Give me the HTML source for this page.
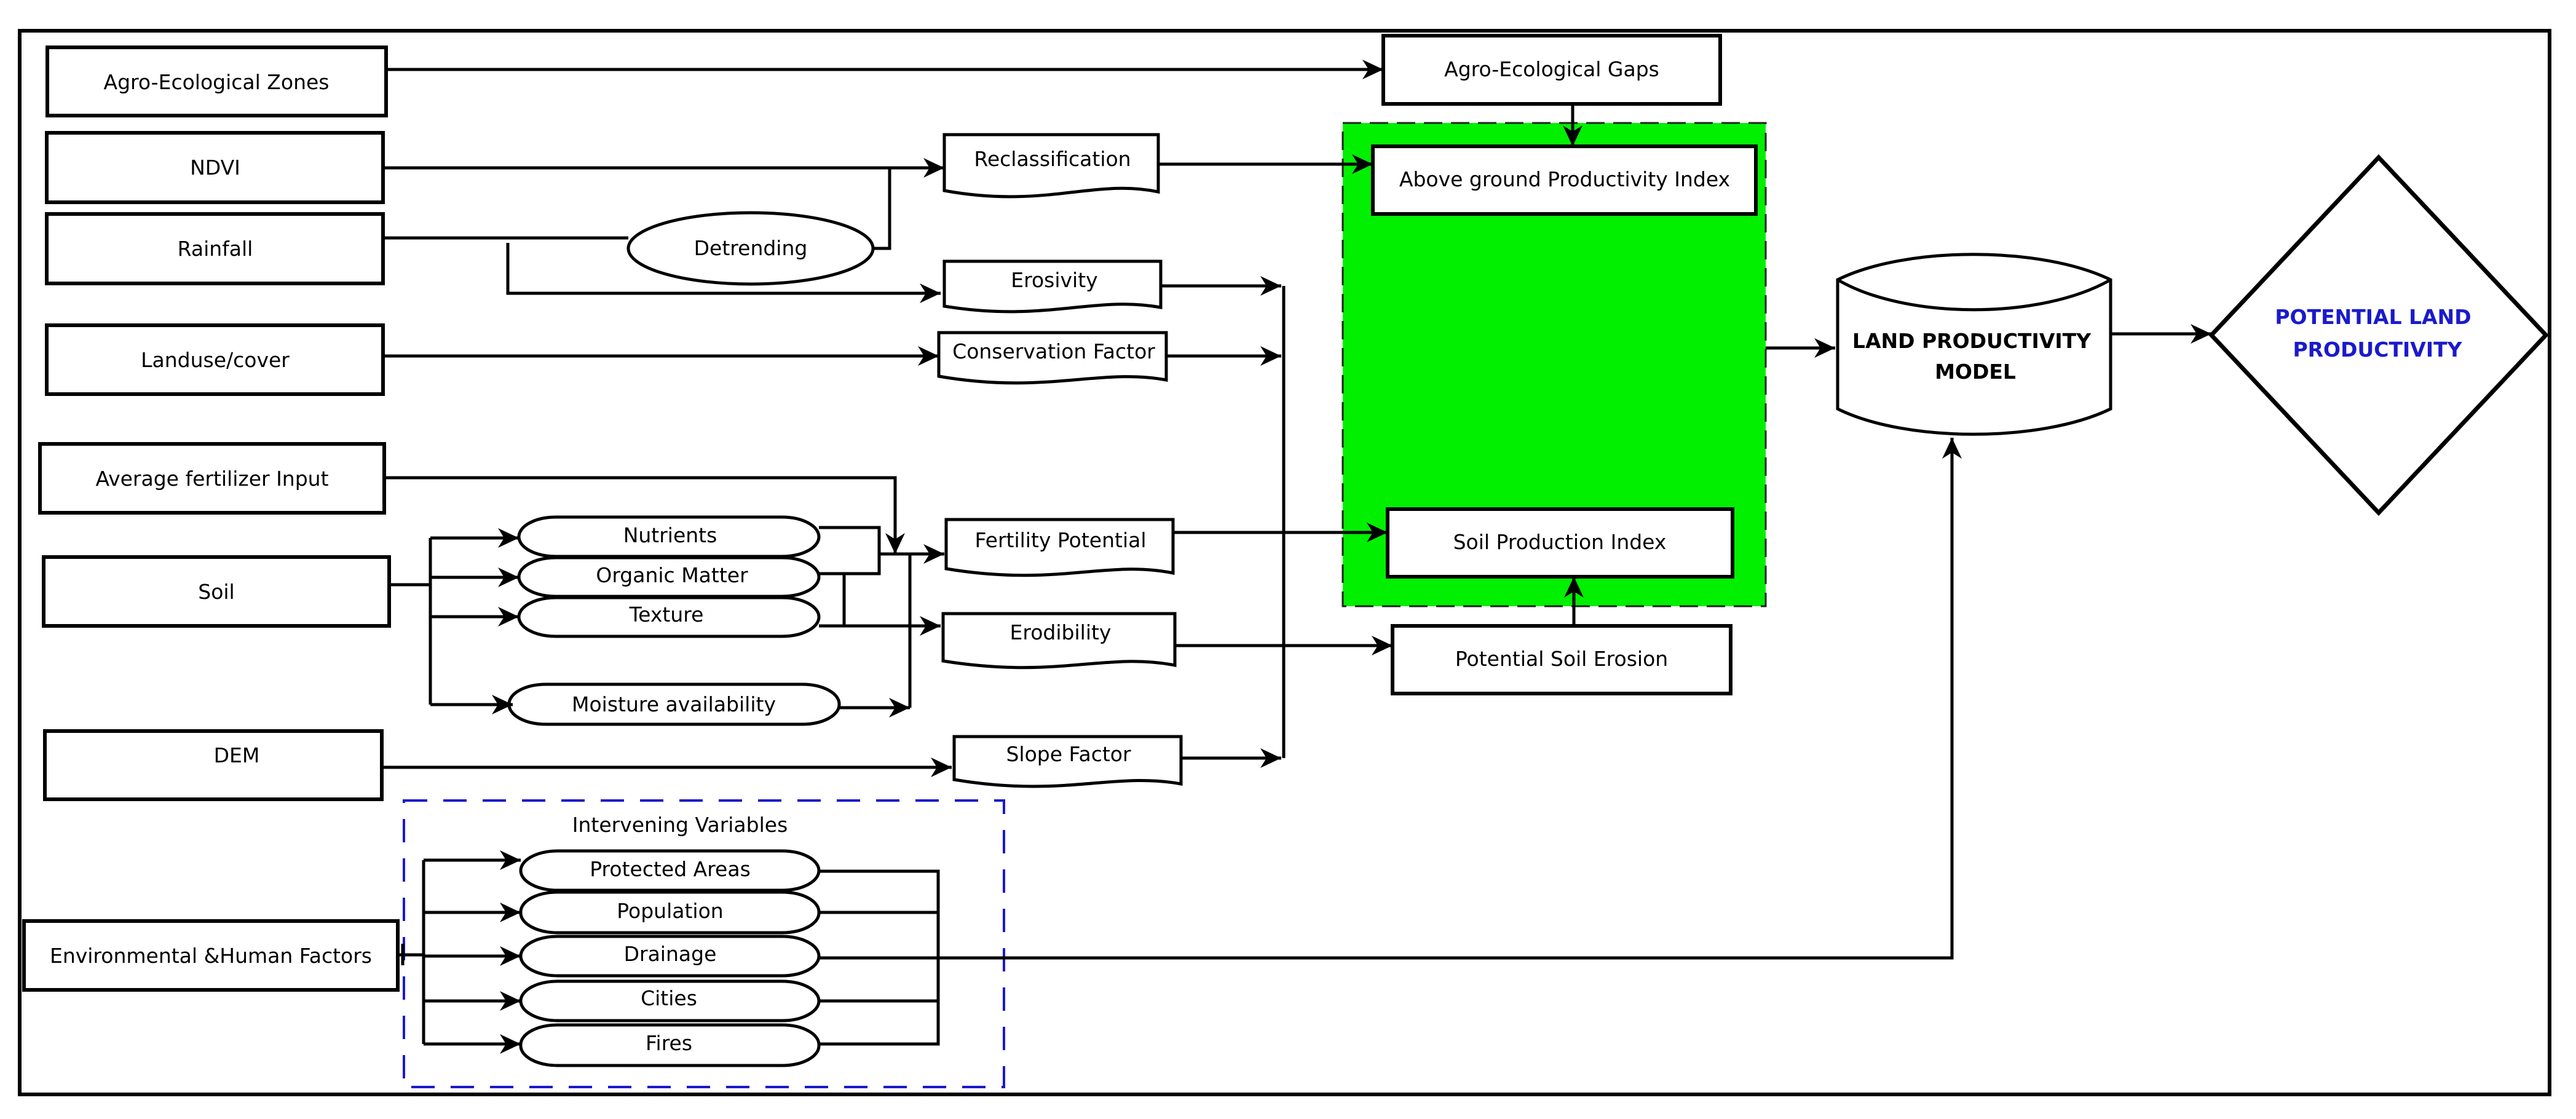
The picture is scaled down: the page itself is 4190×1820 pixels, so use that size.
<!DOCTYPE html>
<html><head><meta charset="utf-8"><style>
html,body{margin:0;padding:0;background:#fff;}
svg{display:block;}
text{font-family:"DejaVu Sans","Liberation Sans",sans-serif;fill:#000;}
</style></head><body>
<svg width="4190" height="1820" viewBox="0 0 4190 1820" xmlns="http://www.w3.org/2000/svg">
<defs>
<marker id="a" markerUnits="userSpaceOnUse" markerWidth="40" markerHeight="40" refX="34" refY="18" orient="auto">
<path d="M0,2 L34,18 L0,34 L10,18 Z" fill="#000"/>
</marker>
</defs>
<rect x="0" y="0" width="4190" height="1820" fill="#fff"/>
<rect x="32" y="50" width="4115" height="1730" fill="none" stroke="#000" stroke-width="6"/>

<!-- green area -->
<rect x="2184" y="200" width="688" height="786" fill="#00f000" stroke="#222" stroke-width="3" stroke-dasharray="30,14"/>

<g fill="#fff" stroke="#000" stroke-width="6">
<rect x="77" y="77" width="551" height="111"/>
<rect x="76" y="216" width="547" height="113"/>
<rect x="76" y="348" width="547" height="113"/>
<rect x="76" y="529" width="547" height="112"/>
<rect x="65" y="722" width="560" height="112"/>
<rect x="71" y="906" width="562" height="112"/>
<rect x="73" y="1189" width="548" height="111"/>
<rect x="39" y="1498" width="608" height="112"/>
<rect x="2250" y="58" width="548" height="111"/>
<rect x="2233" y="238" width="623" height="110"/>
<rect x="2257" y="828" width="561" height="110"/>
<rect x="2265" y="1018" width="550" height="110"/>
</g>

<g fill="#fff" stroke="#000" stroke-width="5">
<!-- document shapes -->
<path d="M1536,219 H1884 V312 C1780,290 1700,340 1536,310 Z"/>
<path d="M1536,425 H1888 V500 C1780,480 1700,525 1536,498 Z"/>
<path d="M1527,541 H1897 V618 C1790,598 1700,642 1527,612 Z"/>
<path d="M1539,845 H1908 V932 C1800,910 1720,955 1539,925 Z"/>
<path d="M1534,998 H1911 V1082 C1800,1060 1720,1105 1534,1075 Z"/>
<path d="M1552,1198 H1921 V1275 C1810,1255 1730,1298 1552,1268 Z"/>
<!-- detrending -->
<ellipse cx="1221" cy="404" rx="199" ry="58"/>
<!-- ovals -->
<rect x="844" y="841" width="488" height="64" rx="60" ry="32"/>
<rect x="844" y="907" width="488" height="63" rx="60" ry="32"/>
<rect x="844" y="972" width="488" height="63" rx="60" ry="32"/>
<rect x="828" y="1113" width="537" height="65" rx="60" ry="32"/>
<rect x="847" y="1384" width="485" height="64" rx="60" ry="32"/>
<rect x="847" y="1451" width="485" height="66" rx="60" ry="32"/>
<rect x="847" y="1523" width="485" height="64" rx="60" ry="32"/>
<rect x="847" y="1596" width="485" height="64" rx="60" ry="32"/>
<rect x="847" y="1667" width="485" height="66" rx="60" ry="32"/>
<!-- cylinder -->
<path d="M2989,455 C3100,400 3320,400 3433,455 V665 C3320,720 3100,720 2989,665 Z"/>
<path d="M2989,455 C3100,520 3320,520 3433,455" fill="none"/>
<!-- diamond -->
<path d="M3597,545 L3869,256 L4141,545 L3869,834 Z" stroke-width="7"/>
</g>

<!-- dashed blue -->
<rect x="657" y="1302" width="976" height="466" fill="none" stroke="#1a1acc" stroke-width="4" stroke-dasharray="38,26"/>

<g fill="none" stroke="#000" stroke-width="5">
<path d="M628,113 H2250" marker-end="url(#a)"/>
<path d="M623,273 H1536" marker-end="url(#a)"/>
<path d="M1420,404 H1447 V273"/>
<path d="M623,387 H1022"/>
<path d="M826,395 V477 H1530" marker-end="url(#a)"/>
<path d="M623,579 H1527" marker-end="url(#a)"/>
<path d="M621,1248 H1548" marker-end="url(#a)"/>
<path d="M1884,267 H2233" marker-end="url(#a)"/>
<path d="M2558,172 V238" marker-end="url(#a)"/>
<path d="M1888,465 H2084" marker-end="url(#a)"/>
<path d="M1897,579 H2084" marker-end="url(#a)"/>
<path d="M1921,1233 H2084" marker-end="url(#a)"/>
<path d="M2088,465 V1233"/>
<path d="M1908,866 H2257" marker-end="url(#a)"/>
<path d="M1911,1050 H2265" marker-end="url(#a)"/>
<path d="M2560,1018 V938" marker-end="url(#a)"/>
<path d="M2872,566 H2985" marker-end="url(#a)"/>
<path d="M3433,543 H3597" marker-end="url(#a)"/>
<!-- soil branches -->
<path d="M633,951 H700"/>
<path d="M700,875 V1146"/>
<path d="M700,875 H844" marker-end="url(#a)"/>
<path d="M700,939 H844" marker-end="url(#a)"/>
<path d="M700,1003 H844" marker-end="url(#a)"/>
<path d="M700,1146 H834" marker-end="url(#a)"/>
<path d="M625,777 H1456 V901" marker-end="url(#a)"/>
<path d="M1332,858 H1430 V933 H1332"/>
<path d="M1430,901 H1536" marker-end="url(#a)"/>
<path d="M1373,933 V1018"/>
<path d="M1332,1018 H1530" marker-end="url(#a)"/>
<path d="M1480,901 V1151"/>
<path d="M1365,1151 H1480" marker-end="url(#a)"/>
<!-- intervening -->
<path d="M647,1553 H689"/>
<path d="M655,1535 V1570"/>
<path d="M689,1399 V1698"/>
<path d="M689,1399 H847" marker-end="url(#a)"/>
<path d="M689,1484 H847" marker-end="url(#a)"/>
<path d="M689,1555 H847" marker-end="url(#a)"/>
<path d="M689,1628 H847" marker-end="url(#a)"/>
<path d="M689,1698 H847" marker-end="url(#a)"/>
<path d="M1332,1417 H1526 V1698 H1332"/>
<path d="M1332,1484 H1526"/>
<path d="M1332,1628 H1526"/>
<path d="M1332,1558 H3175 V712" marker-end="url(#a)"/>
</g>

<g font-size="33" text-anchor="middle">
<text x="352" y="145">Agro-Ecological Zones</text>
<text x="350" y="284">NDVI</text>
<text x="350" y="416">Rainfall</text>
<text x="350" y="597">Landuse/cover</text>
<text x="345" y="790">Average fertilizer Input</text>
<text x="352" y="974">Soil</text>
<text x="385" y="1240">DEM</text>
<text x="343" y="1566">Environmental &amp;Human Factors</text>
<text x="1712" y="270">Reclassification</text>
<text x="1715" y="467">Erosivity</text>
<text x="1714" y="583">Conservation Factor</text>
<text x="1725" y="890">Fertility Potential</text>
<text x="1725" y="1040">Erodibility</text>
<text x="1738" y="1238">Slope Factor</text>
<text x="1221" y="415">Detrending</text>
<text x="1090" y="882">Nutrients</text>
<text x="1093" y="947">Organic Matter</text>
<text x="1084" y="1011">Texture</text>
<text x="1096" y="1157">Moisture availability</text>
<text x="1106" y="1353">Intervening Variables</text>
<text x="1090" y="1425">Protected Areas</text>
<text x="1090" y="1493">Population</text>
<text x="1090" y="1563">Drainage</text>
<text x="1088" y="1635">Cities</text>
<text x="1088" y="1708">Fires</text>
<text x="2524" y="124">Agro-Ecological Gaps</text>
<text x="2545" y="303">Above ground Productivity Index</text>
<text x="2537" y="893">Soil Production Index</text>
<text x="2540" y="1083">Potential Soil Erosion</text>
</g>
<g font-size="33" font-weight="bold" text-anchor="middle">
<text x="3207" y="566">LAND PRODUCTIVITY</text>
<text x="3213" y="616">MODEL</text>
<text x="3860" y="527" style="fill:#1a1acc">POTENTIAL LAND</text>
<text x="3867" y="580" style="fill:#1a1acc">PRODUCTIVITY</text>
</g>
</svg>
</body></html>
